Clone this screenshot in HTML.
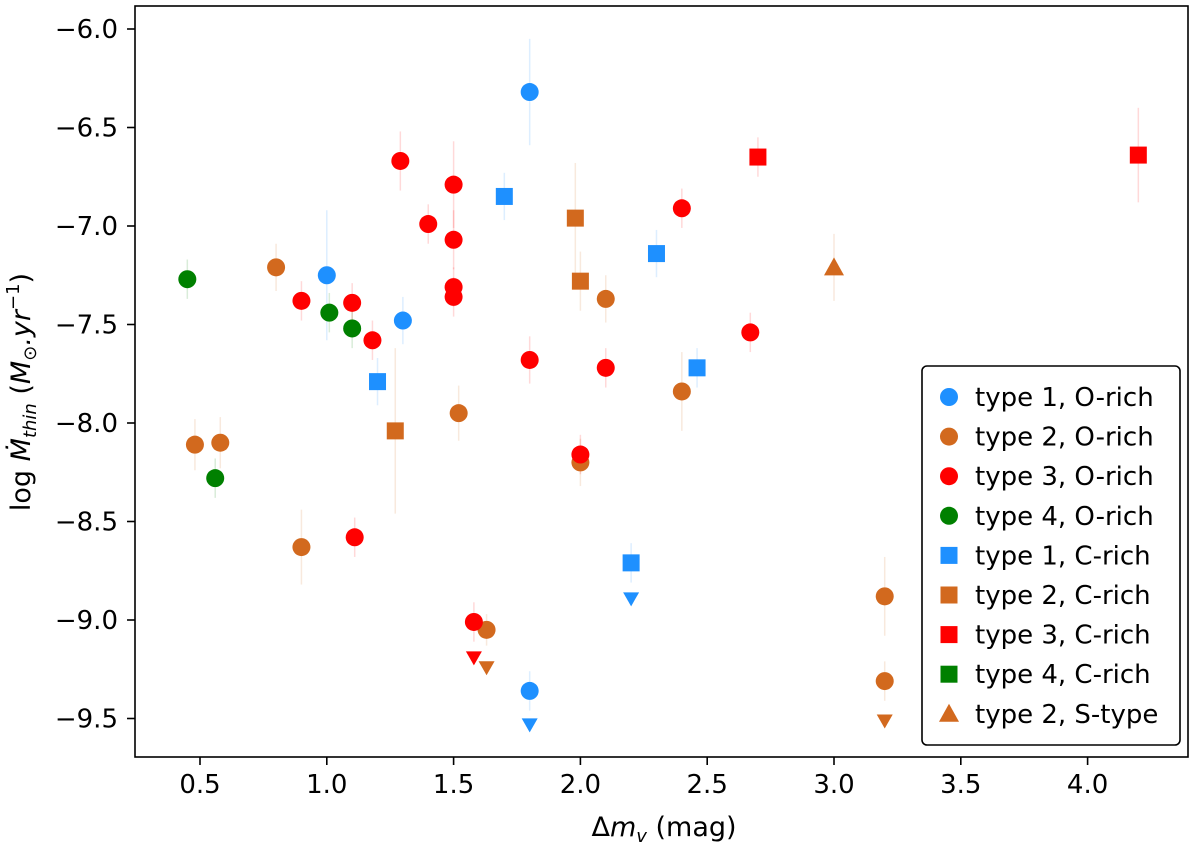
<!DOCTYPE html>
<html><head><meta charset="utf-8"><style>
body{margin:0;background:#fff;}
svg{display:block;font-family:"DejaVu Sans","Liberation Sans",sans-serif;}
</style></head><body>
<svg id="chart" width="1200" height="843" viewBox="0 0 1200 843">
<rect x="0" y="0" width="1200" height="843" fill="#fff"/>
<g id="errs"></g>
<g id="marks"></g>
<rect x="135" y="6" width="1053" height="751" fill="none" stroke="#000" stroke-width="1.6"/>
<g id="xticks"></g>
<g id="yticks"></g>
<text x="664" y="836" font-size="27" text-anchor="middle">Δ<tspan font-style="italic">m</tspan><tspan font-style="italic" font-size="18" dy="6">v</tspan><tspan dy="-6"> (mag)</tspan></text>
<text transform="translate(30,392) rotate(-90)" font-size="27" text-anchor="middle">log <tspan font-style="italic">Ṁ</tspan><tspan font-style="italic" font-size="18" dy="6">thin</tspan><tspan dy="-6"> (</tspan><tspan font-style="italic">M</tspan><tspan font-size="18" dy="6">⊙</tspan><tspan dy="-6" font-style="italic">.yr</tspan><tspan font-size="18" dy="-11">−1</tspan><tspan dy="11">)</tspan></text>
<g id="legend">
<rect x="922" y="366" width="258" height="379" rx="5" fill="#fff" stroke="#000" stroke-width="1.6"/>
</g>
</svg>
<script>
const NS="http://www.w3.org/2000/svg";
const seriesNames=["type 1, O-rich","type 2, O-rich","type 3, O-rich","type 4, O-rich","type 1, C-rich","type 2, C-rich","type 3, C-rich","type 4, C-rich","type 2, S-type"];
const seriesColors=["#1e90ff","#d2691e","#ff0000","#008000","#1e90ff","#d2691e","#ff0000","#008000","#d2691e"];
const seriesShapes=["o","o","o","o","s","s","s","s","^"];
const xT1O=[1.8,1.0,1.3,1.8];
const yT1O=[-6.32,-7.25,-7.48,-9.36];
const eT1O=[0.27,0.33,0.12,0.1];
const xT2O=[0.8,0.48,0.58,0.9,1.52,2.1,2.0,2.4,1.63,3.2,3.2];
const yT2O=[-7.21,-8.11,-8.10,-8.63,-7.95,-7.37,-8.20,-7.84,-9.05,-8.88,-9.31];
const eT2O=[0.12,0.13,0.13,0.19,0.14,0.12,0.12,0.2,0.08,0.2,0.1];
const xT3O=[1.29,1.5,1.4,1.5,0.9,1.1,1.5,1.5,1.18,1.8,2.4,2.1,2.67,2.0,1.11,1.58];
const yT3O=[-6.67,-6.79,-6.99,-7.07,-7.38,-7.39,-7.31,-7.36,-7.58,-7.68,-6.91,-7.72,-7.54,-8.16,-8.58,-9.01];
const eT3O=[0.15,0.22,0.1,0.15,0.1,0.1,0.1,0.1,0.1,0.12,0.1,0.1,0.1,0.1,0.1,0.1];
const xT4O=[0.45,1.01,1.1,0.56];
const yT4O=[-7.27,-7.44,-7.52,-8.28];
const eT4O=[0.1,0.1,0.1,0.1];
const xT1C=[1.7,2.3,1.2,2.46,2.2];
const yT1C=[-6.85,-7.14,-7.79,-7.72,-8.71];
const eT1C=[0.12,0.12,0.12,0.1,0.1];
const xT2C=[1.98,2.0,1.27];
const yT2C=[-6.96,-7.28,-8.04];
const eT2C=[0.28,0.15,0.42];
const xT3C=[2.7,4.2];
const yT3C=[-6.65,-6.64];
const eT3C=[0.1,0.24];
const xT4C=[];
const yT4C=[];
const eT4C=[];
const xT2S=[3.0];
const yT2S=[-7.21];
const eT2S=[0.17];
const limX=[2.2,1.8,1.58,1.63,3.2];
const limY=[-8.89,-9.53,-9.19,-9.24,-9.51];
const limColors=["#1e90ff","#1e90ff","#ff0000","#d2691e","#d2691e"];
const xTicks=[0.5,1.0,1.5,2.0,2.5,3.0,3.5,4.0];
const xTickLabels=["0.5","1.0","1.5","2.0","2.5","3.0","3.5","4.0"];
const yTicks=[-6.0,-6.5,-7.0,-7.5,-8.0,-8.5,-9.0,-9.5];
const yTickLabels=["−6.0","−6.5","−7.0","−7.5","−8.0","−8.5","−9.0","−9.5"];

const allX=[xT1O,xT2O,xT3O,xT4O,xT1C,xT2C,xT3C,xT4C,xT2S];
const allY=[yT1O,yT2O,yT3O,yT4O,yT1C,yT2C,yT3C,yT4C,yT2S];
const allE=[eT1O,eT2O,eT3O,eT4O,eT1C,eT2C,eT3C,eT4C,eT2S];

function xs(v){return 200+(v-0.5)*253.6;}
function ys(v){return 29+(-6-v)*197;}
function mk(tag,attrs,parent){const e=document.createElementNS(NS,tag);for(const k in attrs)e.setAttribute(k,attrs[k]);parent.appendChild(e);return e;}
function marker(shape,cx,cy,col,parent){
  if(shape==="o")return mk("circle",{cx:cx,cy:cy,r:9,fill:col},parent);
  if(shape==="s")return mk("rect",{x:cx-8.5,y:cy-8.5,width:17,height:17,fill:col},parent);
  if(shape==="^")return mk("polygon",{points:`${cx},${cy-10} ${cx-10},${cy+8} ${cx+10},${cy+8}`,fill:col},parent);
  return mk("polygon",{points:`${cx-8},${cy-6} ${cx+8},${cy-6} ${cx},${cy+8}`,fill:col},parent);
}
const errs=document.getElementById("errs"),marks=document.getElementById("marks");
for(let s=0;s<allX.length;s++){
  for(let i=0;i<allX[s].length;i++){
    const cx=xs(allX[s][i]),cy=ys(allY[s][i]),e=allE[s][i];
    const l=mk("line",{x1:cx,x2:cx,y1:ys(allY[s][i]+e),y2:ys(allY[s][i]-e),stroke:seriesColors[s],"stroke-opacity":0.15,"stroke-width":1.5},errs);
    
    
    const m=marker(seriesShapes[s],cx,cy,seriesColors[s],marks);
    
    
  }
}
for(let i=0;i<limX.length;i++){
  const m=marker("v",xs(limX[i]),ys(limY[i]),limColors[i],marks);
  
  
}
const xg=document.getElementById("xticks"),yg=document.getElementById("yticks");
for(let i=0;i<xTicks.length;i++){
  const x=xs(xTicks[i]);
  const t=mk("line",{x1:x,x2:x,y1:757,y2:765,stroke:"#000","stroke-width":1.6},xg);
  
  
  const tx=mk("text",{x:x,y:793,"font-size":26,"text-anchor":"middle"},xg);tx.textContent=xTickLabels[i];
  
  
}
for(let i=0;i<yTicks.length;i++){
  const y=ys(yTicks[i]);
  const t=mk("line",{x1:127,x2:135,y1:y,y2:y,stroke:"#000","stroke-width":1.6},yg);
  
  
  const tx=mk("text",{x:118,y:y+9,"font-size":26,"text-anchor":"end"},yg);tx.textContent=yTickLabels[i];
  
  
}
const lg=document.getElementById("legend");
for(let s=0;s<seriesNames.length;s++){
  const y=397+s*39.6;
  const g=mk("g",{},lg);
  
  
  marker(seriesShapes[s],949,y,seriesColors[s],g);
  const tx=mk("text",{x:975,y:y+9,"font-size":26},g);tx.textContent=seriesNames[s];
}
</script>
</body></html>
